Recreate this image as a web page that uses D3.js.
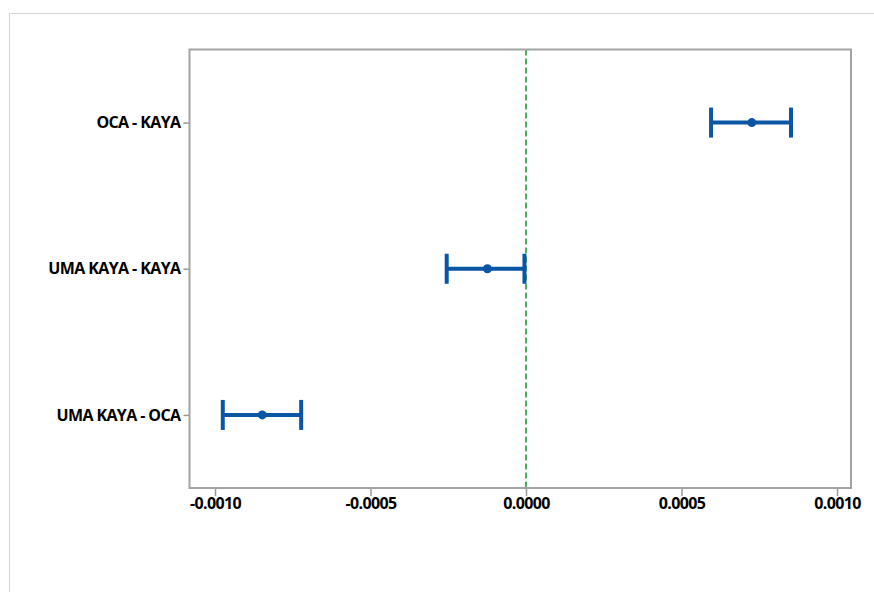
<!DOCTYPE html>
<html>
<head>
<meta charset="utf-8">
<script src="https://cdn.jsdelivr.net/npm/d3@7"></script>
<style>
  html, body { margin: 0; padding: 0; background: #fff; }
  svg { display: block; }
  .lbl { font-family: "Open Sans", sans-serif; font-weight: 700; fill: #000; }
</style>
</head>
<body>
<svg id="chart" width="874" height="592"></svg>
<script>
// Pairwise differences of means with confidence intervals
const comparisons = ["OCA - KAYA", "UMA KAYA - KAYA", "UMA KAYA - OCA"];
const estimates   = [0.000726, -0.000124, -0.000848];
const lowerCI     = [0.000595, -0.000255, -0.000975];
const upperCI     = [0.000852, -0.000005, -0.000723];
const xTicks      = [-0.0010, -0.0005, 0.0000, 0.0005, 0.0010];

const svg = d3.select("#chart");
const W = 874, H = 592;
const plot = { left: 189.5, right: 851, top: 49.5, bottom: 488 };

// outer panel border
svg.append("line").attr("x1", 9.5).attr("x2", W).attr("y1", 13.5).attr("y2", 13.5)
  .attr("stroke", "#d4d4d4").attr("stroke-width", 1);
svg.append("line").attr("x1", 9.5).attr("x2", 9.5).attr("y1", 13.5).attr("y2", H)
  .attr("stroke", "#d4d4d4").attr("stroke-width", 1);

const x = d3.scaleLinear().domain([-0.001082, 0.001045]).range([plot.left, plot.right]);
const y = d3.scalePoint().domain(comparisons).range([plot.top, plot.bottom]).padding(0.5);

// x axis
const xAxis = svg.append("g").attr("transform", `translate(0,${plot.bottom})`)
  .call(d3.axisBottom(x).tickValues(xTicks).tickFormat(d3.format(".4f")).tickSize(8).tickPadding(2));
xAxis.select(".domain").remove();
xAxis.selectAll(".tick line").attr("stroke", "#999").attr("stroke-width", 1.5);
xAxis.selectAll(".tick text").attr("class", "lbl").attr("font-size", 16)
  .attr("letter-spacing", "-0.6px")
  .text(d => d3.format(".4f")(d).replace("−", "-"));

// y axis
const yAxis = svg.append("g").attr("transform", `translate(${plot.left},0)`)
  .call(d3.axisLeft(y).tickSize(6).tickPadding(3));
yAxis.select(".domain").remove();
yAxis.selectAll(".tick line").attr("stroke", "#999").attr("stroke-width", 1.5);
yAxis.selectAll(".tick text").attr("class", "lbl").attr("font-size", 16)
  .attr("letter-spacing", "-0.6px");

// reference line at zero
svg.append("line")
  .attr("x1", x(0)).attr("x2", x(0))
  .attr("y1", plot.top).attr("y2", plot.bottom)
  .attr("stroke", "#1e9a3c").attr("stroke-width", 1.6)
  .attr("stroke-dasharray", "6,3");

// plot frame
svg.append("rect")
  .attr("x", plot.left).attr("y", plot.top)
  .attr("width", plot.right - plot.left).attr("height", plot.bottom - plot.top)
  .attr("fill", "none").attr("stroke", "#a3a3a3").attr("stroke-width", 2);

// intervals
const rows = comparisons.map((c, i) => ({ c, est: estimates[i], lo: lowerCI[i], hi: upperCI[i] }));
const blue = "#0b55a5";
const g = svg.append("g");
g.selectAll("line.ci").data(rows).join("line")
  .attr("x1", d => x(d.lo)).attr("x2", d => x(d.hi))
  .attr("y1", d => y(d.c)).attr("y2", d => y(d.c))
  .attr("stroke", blue).attr("stroke-width", 4);
g.selectAll("line.capL").data(rows).join("line")
  .attr("x1", d => x(d.lo)).attr("x2", d => x(d.lo))
  .attr("y1", d => y(d.c) - 15).attr("y2", d => y(d.c) + 15)
  .attr("stroke", blue).attr("stroke-width", 4);
g.selectAll("line.capR").data(rows).join("line")
  .attr("x1", d => x(d.hi)).attr("x2", d => x(d.hi))
  .attr("y1", d => y(d.c) - 15).attr("y2", d => y(d.c) + 15)
  .attr("stroke", blue).attr("stroke-width", 4);
g.selectAll("circle").data(rows).join("circle")
  .attr("cx", d => x(d.est)).attr("cy", d => y(d.c)).attr("r", 4.5)
  .attr("fill", blue);
</script>
</body>
</html>
